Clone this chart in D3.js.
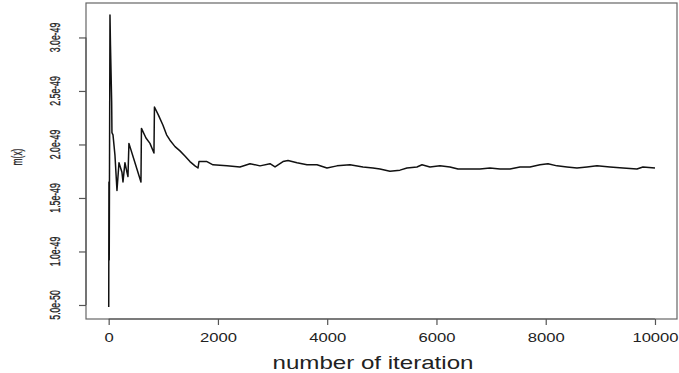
<!DOCTYPE html>
<html><head><meta charset="utf-8">
<script src="https://cdn.jsdelivr.net/npm/d3@7/dist/d3.min.js"></script>
<style>body{margin:0;background:#fff}svg{display:block}</style>
</head><body>
<svg id="c" width="679" height="373"></svg>
<script>
const iterations = [1,5,10,24,33,55,60,79,115,152,189,243,262,298,335,353,371,463,591,600,683,756,829,838,915,994,1060,1122,1215,1305,1400,1488,1580,1635,1653,1740,1799,1909,2165,2403,2587,2770,2953,3045,3191,3283,3447,3630,3813,3996,4179,4417,4655,4838,4966,5149,5332,5460,5643,5735,5881,6064,6247,6394,6613,6796,6979,7163,7346,7529,7712,7895,8041,8206,8389,8572,8755,8938,9176,9414,9670,9780,10000];
const mValues = [0.48e-49,1.65e-49,0.92e-49,3.21e-49,2.93e-49,2.39e-49,2.11e-49,2.09e-49,1.90e-49,1.57e-49,1.83e-49,1.74e-49,1.65e-49,1.83e-49,1.74e-49,1.70e-49,2.01e-49,1.86e-49,1.65e-49,2.15e-49,2.06e-49,2.01e-49,1.92e-49,2.35e-49,2.27e-49,2.18e-49,2.09e-49,2.04e-49,1.98e-49,1.94e-49,1.89e-49,1.84e-49,1.80e-49,1.78e-49,1.84e-49,1.84e-49,1.84e-49,1.81e-49,1.80e-49,1.79e-49,1.82e-49,1.80e-49,1.82e-49,1.79e-49,1.84e-49,1.85e-49,1.83e-49,1.81e-49,1.81e-49,1.78e-49,1.80e-49,1.81e-49,1.79e-49,1.78e-49,1.77e-49,1.75e-49,1.76e-49,1.78e-49,1.79e-49,1.81e-49,1.79e-49,1.80e-49,1.79e-49,1.77e-49,1.77e-49,1.77e-49,1.78e-49,1.77e-49,1.77e-49,1.79e-49,1.79e-49,1.81e-49,1.82e-49,1.80e-49,1.79e-49,1.78e-49,1.79e-49,1.80e-49,1.79e-49,1.78e-49,1.77e-49,1.79e-49,1.78e-49];
const xTicks = [0,2000,4000,6000,8000,10000];
const yTicks = [0.5e-49,1.0e-49,1.5e-49,2.0e-49,2.5e-49,3.0e-49];
const yTickLabels = ["5.0e-50","1.0e-49","1.5e-49","2.0e-49","2.5e-49","3.0e-49"];
const xTitle = "number of iteration";
const yTitle = "m(x)";

const svg = d3.select("#c");
const L=86, R=677, T=3, B=319;
const x = d3.scaleLinear().domain([-415,10403]).range([L,R]);
const y = d3.scaleLinear().domain([0.369e-49,3.322e-49]).range([B,T]);
const font = "'Liberation Sans', Arial, sans-serif";

// line
const data = iterations.map((d,i)=>[d,mValues[i]]);
svg.append("path").datum(data)
  .attr("fill","none").attr("stroke","#111").attr("stroke-width",1.5)
  .attr("stroke-linejoin","round")
  .attr("d", d3.line().x(d=>x(d[0])).y(d=>y(d[1])));

// frame
svg.append("rect").attr("x",L).attr("y",T).attr("width",R-L).attr("height",B-T)
  .attr("fill","none").attr("stroke","#666").attr("stroke-width",1.2);

// x axis
const gx = svg.append("g").attr("transform",`translate(0,${B})`)
  .call(d3.axisBottom(x).tickValues(xTicks).tickSize(6).tickPadding(0).tickFormat(d3.format("d")));
gx.select(".domain").attr("d",`M${x(0)},0H${x(10000)}`).attr("stroke","#555").attr("stroke-width",1.2);
gx.selectAll(".tick line").attr("stroke","#555").attr("stroke-width",1.2);
gx.selectAll(".tick text").attr("y",23).attr("dy",0).attr("fill","#222")
  .attr("font-family",font).attr("font-size",13.5).attr("transform","scale(1.23,1)");

// y axis
const gy = svg.append("g").attr("transform",`translate(${L},0)`)
  .call(d3.axisLeft(y).tickValues(yTicks).tickSize(7).tickFormat(""));
gy.select(".domain").attr("d",`M0,${y(0.5e-49)}V${y(3.0e-49)}`).attr("stroke","#555").attr("stroke-width",1.2);
gy.selectAll(".tick line").attr("stroke","#555").attr("stroke-width",1.2);
svg.append("g").selectAll("text").data(yTicks).join("text")
  .attr("transform",d=>`translate(55.5,${y(d)}) rotate(-90) scale(0.56,1)`)
  .attr("text-anchor","middle").attr("dominant-baseline","central")
  .attr("font-family",font).attr("font-size",15.5).attr("fill","#222")
  .attr("stroke","#222").attr("stroke-width",0.35)
  .text((d,i)=>yTickLabels[i]);

// titles
svg.append("text").attr("transform","translate(373,369) scale(1.34,1)")
  .attr("text-anchor","middle").attr("font-family",font).attr("font-size",18).attr("fill","#222")
  .text(xTitle);
svg.append("text").attr("transform","translate(17.5,157) rotate(-90) scale(0.6,1)")
  .attr("text-anchor","middle").attr("dominant-baseline","central")
  .attr("font-family",font).attr("font-size",14).attr("fill","#222")
  .attr("stroke","#222").attr("stroke-width",0.3)
  .text(yTitle);
</script>
</body></html>
